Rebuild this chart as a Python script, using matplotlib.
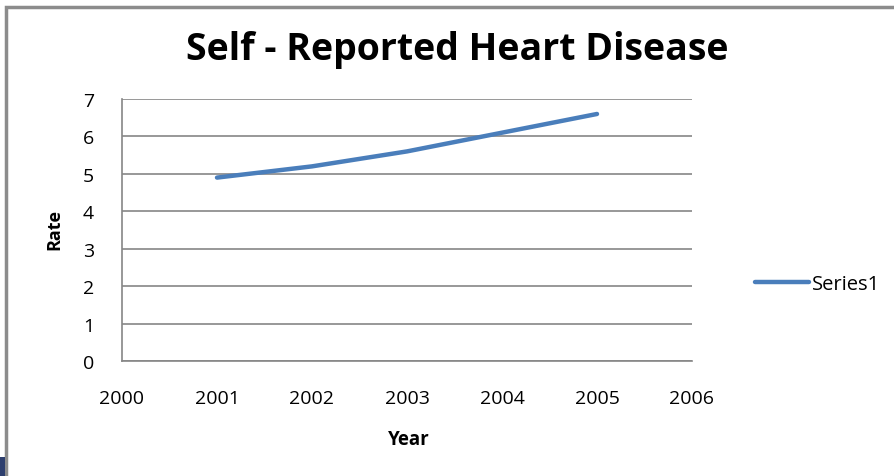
import matplotlib
matplotlib.use("Agg")
import matplotlib.pyplot as plt
from matplotlib.patches import Rectangle

years = [2001, 2002, 2003, 2004, 2005]
rates = [4.9, 5.2, 5.6, 6.1, 6.6]
x_ticks = [2000, 2001, 2002, 2003, 2004, 2005, 2006]
y_ticks = [0, 1, 2, 3, 4, 5, 6, 7]

LINE = "#4a7ebb"
GRID = "#868686"
FONT = ["Open Sans", "DejaVu Sans"]

fig = plt.figure(figsize=(8.95, 4.77), dpi=100)
fig.patches.append(Rectangle((6 / 895, -0.1), 1.2, 1.1 - 8 / 477, transform=fig.transFigure,
                             fill=False, edgecolor="#8c8c8c", linewidth=2.5))
fig.patches.append(Rectangle((0, 0), 5 / 895, 19 / 477, transform=fig.transFigure,
                             facecolor="#2e3f6e", edgecolor="none"))

ax = fig.add_axes([122 / 895, 1 - 362 / 477, 570 / 895, 262 / 477])
ax.plot(years, rates, color=LINE, linewidth=3.2, solid_capstyle="round", label="Series1")

ax.set_xlim(2000, 2006)
ax.set_ylim(0, 7)
ax.set_xticks(x_ticks)
ax.set_yticks(y_ticks)
ax.grid(axis="y", color=GRID, linewidth=1.2)
ax.set_axisbelow(True)
for side in ("top", "right"):
    ax.spines[side].set_visible(False)
for side in ("left", "bottom"):
    ax.spines[side].set_color(GRID)
    ax.spines[side].set_linewidth(1.2)
ax.tick_params(length=0, labelsize=14)
ax.tick_params(axis="x", pad=20)
ax.tick_params(axis="y", pad=20)
for lab in ax.get_xticklabels() + ax.get_yticklabels():
    lab.set_family(FONT)

fig.text(457 / 895, 1 - 50 / 477, "Self - Reported Heart Disease", ha="center", va="center",
         fontsize=27, fontweight="bold", family=FONT)
fig.text(54 / 895, 1 - 230 / 477, "Rate", rotation=90, ha="center", va="center",
         fontsize=13, fontweight="bold", family=FONT)
fig.text(409 / 895, 1 - 440 / 477, "Year", ha="center", va="center",
         fontsize=13.5, fontweight="bold", family=FONT)

leg = fig.legend(loc="center left", bbox_to_anchor=(737 / 895, 1 - 285 / 477), frameon=False,
                 prop={"family": FONT, "size": 14.5}, handlelength=2.7, handletextpad=0.1)

fig.savefig("out.png", dpi=100)
